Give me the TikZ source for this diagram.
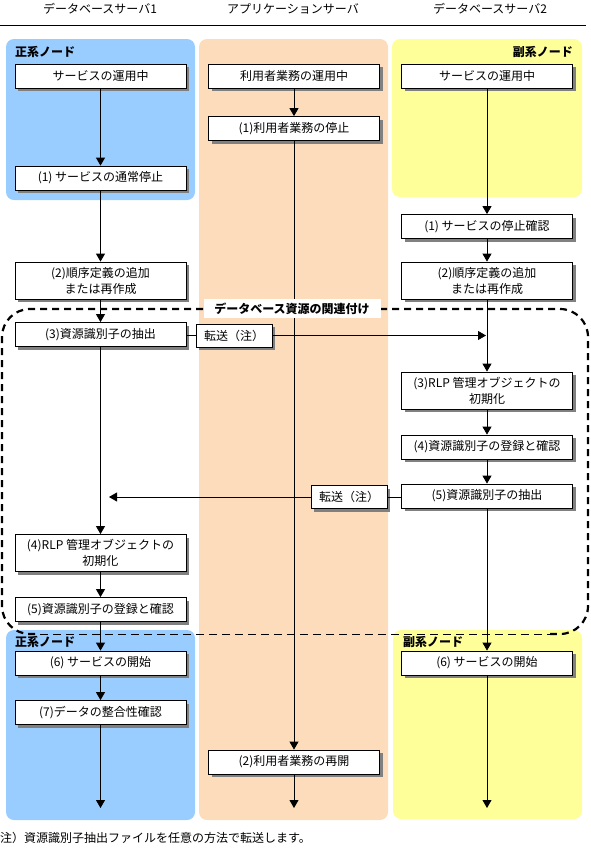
\documentclass[tikz,border=0pt]{standalone}
\usepackage{fontspec}
\setmainfont{Noto Sans CJK JP}
\usetikzlibrary{arrows.meta,shadows}
\definecolor{pblue}{HTML}{99CCFF}
\definecolor{pyellow}{HTML}{FFFF99}
\definecolor{porange}{HTML}{FCDCBA}
\newcommand{\fsz}{\fontsize{12pt}{16pt}\selectfont}
\begin{document}
\begin{tikzpicture}[x=1pt,y=-1pt,
  panel/.style={rounded corners=8pt},
  box/.style={draw, line width=0.8pt, fill=white, minimum width=171pt, minimum height=24pt,
    inner sep=0pt, align=center, font=\fsz,
    drop shadow={shadow xshift=3pt, shadow yshift=-3pt, fill=black!50, opacity=1}},
  boxtwo/.style={box, minimum height=37pt},
  tbox/.style={box, minimum width=76pt, minimum height=23pt},
  arr/.style={line width=0.8pt, -{Triangle[length=8pt,width=9pt]}},
  ln/.style={line width=0.8pt},
  plabel/.style={font=\fsz\bfseries, inner sep=0pt},
  thickdash/.style={line width=2.2pt, dash pattern=on 7pt off 5pt, rounded corners=28pt},
  thindash/.style={line width=0.9pt, dash pattern=on 8pt off 5pt}]
\useasboundingbox (0,0) rectangle (590,860);

% header
\node[font=\fsz] (h1) at (100,9) {データベースサーバ1};
\node[font=\fsz] (h2) at (293,9) {アプリケーションサーバ};
\node[font=\fsz] (h3) at (490,9) {データベースサーバ2};
\draw[line width=0.8pt] (0,25) -- (586,25);

% panels
\fill[pblue, panel] (6,39) rectangle (195,200);
\fill[porange, panel] (199,39) rectangle (388,820);
\fill[pyellow, panel] (392,39) rectangle (582,197);
\fill[pblue, panel] (6,630) rectangle (195,820);
\fill[pyellow, panel] (393,630) rectangle (582,819);

\node[plabel, anchor=west] (p1) at (15,52) {正系ノード};
\node[plabel, anchor=east] (p2) at (573,52) {副系ノード};
\node[plabel, anchor=west] (p3) at (15,642) {正系ノード};
\node[plabel, anchor=west] (p4) at (403,642) {副系ノード};

% dashed region
\draw[thickdash] (203,309) -- (2,309) -- (2,634) -- (40,634);
\draw[thickdash] (380,309) -- (588,309) -- (588,634) -- (550,634);
\draw[thindash] (40,634) -- (550,634);

% left column
\node[box] (L0) at (100.5,76) {サービスの運用中};
\node[box] (L1) at (100.5,178) {(1) サービスの通常停止};
\node[boxtwo] (L2) at (100.5,280.5) {(2)順序定義の追加\\または再作成};
\node[box] (L3) at (100.5,334.5) {(3)資源識別子の抽出};
\node[boxtwo] (L4) at (100.5,553) {(4)RLP 管理オブジェクトの\\初期化};
\node[box] (L5) at (100.5,609.5) {(5)資源識別子の登録と確認};
\node[box] (L6) at (100.5,663) {(6) サービスの開始};
\node[box] (L7) at (100.5,712.5) {(7)データの整合性確認};

% center column
\node[box] (C0) at (294,76) {利用者業務の運用中};
\node[box] (C1) at (294,128.5) {(1)利用者業務の停止};
\node[box] (C2) at (294,762) {(2)利用者業務の再開};
\node[tbox] (T1) at (234,335.5) {転送（注）};
\node[tbox] (T2) at (349,497) {転送（注）};

% right column
\node[box] (R0) at (487,76) {サービスの運用中};
\node[box] (R1) at (487,226.5) {(1) サービスの停止確認};
\node[boxtwo] (R2) at (487,280.5) {(2)順序定義の追加\\または再作成};
\node[boxtwo] (R3) at (487,390.5) {(3)RLP 管理オブジェクトの\\初期化};
\node[box] (R4) at (487,447) {(4)資源識別子の登録と確認};
\node[box] (R5) at (487,496) {(5)資源識別子の抽出};
\node[box] (R6) at (487,663) {(6) サービスの開始};

\coordinate (Lend) at (100.5,808);
\coordinate (Cend) at (294,808);
\coordinate (Rend) at (487,808);
\coordinate (Ltip) at (109,497);
\coordinate (Rtip) at (486,335.5);

% connectors left
\draw[arr] (L0.south) -- (L1.north);
\draw[arr] (L1.south) -- (L2.north);
\draw[arr] (L2.south) -- (L3.north);
\draw[arr] (L3.south) -- (L4.north);
\draw[arr] (L4.south) -- (L5.north);
\draw[arr] (L5.south) -- (L6.north);
\draw[arr] (L6.south) -- (L7.north);
\draw[arr] (L7.south) -- (Lend);

% connectors center
\draw[arr] (C0.south) -- (C1.north);
\draw[arr] (C1.south) -- (C2.north);
\draw[arr] (C2.south) -- (Cend);

% connectors right
\draw[arr] (R0.south) -- (R1.north);
\draw[arr] (R1.south) -- (R2.north);
\draw[arr] (R2.south) -- (R3.north);
\draw[arr] (R3.south) -- (R4.north);
\draw[arr] (R4.south) -- (R5.north);
\draw[arr] (R5.south) -- (R6.north);
\draw[arr] (R6.south) -- (Rend);

% transfers
\draw[ln] (L3.east |- T1.west) -- (T1.west);
\draw[arr] (T1.east) -- (Rtip);
\draw[ln] (R5.west |- T2.east) -- (T2.east);
\draw[arr] (T2.west) -- (Ltip);

% region label
\node[fill=white, font=\fsz\bfseries, minimum width=177pt, minimum height=19pt, inner sep=0pt] (lab) at (292,308.5) {データベース資源の関連付け};

% footnote
\node[font=\fsz, anchor=west, inner sep=0pt] (fn) at (0,838) {注）資源識別子抽出ファイルを任意の方法で転送します。};
\end{tikzpicture}
\end{document}
